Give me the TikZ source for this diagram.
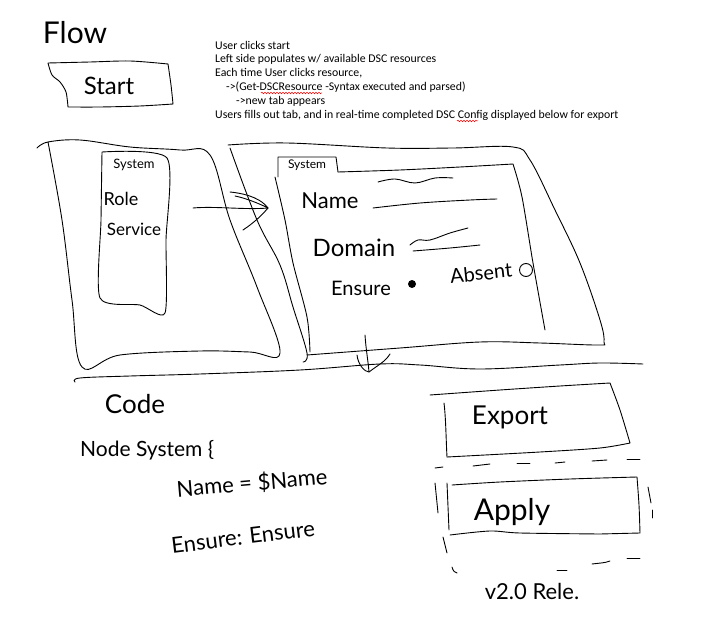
\documentclass[tikz,border=0pt]{standalone}
\usepackage{fontspec}
\setmainfont{Carlito}
\newfontfamily\hand{Lato}
\usetikzlibrary{decorations.pathmorphing}
\tikzset{
  ink/.style={line width=0.9pt, line join=round, line cap=round, black},
  hw/.style={font=\hand, inner sep=0pt},
  typed/.style={font=\fontsize{11.8}{14}\selectfont, anchor=west, inner sep=0pt},
  squig/.style={red, line width=0.5pt, decorate, decoration={snake, amplitude=0.8pt, segment length=3pt}},
  dsh/.style={line width=0.9pt, line cap=round}
}
\begin{document}
\begin{tikzpicture}[x=1pt,y=-1pt]
\useasboundingbox (0,0) rectangle (709,620);
% Flow title
\node[hw, font=\hand\fontsize{30}{30}\selectfont] (flow) at (75,33) {Flow};
% Start box
\draw[ink] plot[smooth, tension=0.5] coordinates {(48,63) (90,62) (130,61) (168,64)} -- plot[smooth,tension=0.5] coordinates {(168,64) (171,85) (173,104)} -- plot[smooth,tension=0.5] coordinates {(173,104) (140,106) (100,107) (68,107)} -- plot[smooth,tension=0.5] coordinates {(68,107) (66,92) (60,82) (52,75) (48,63)};
\node[hw, font=\hand\fontsize{24}{24}\selectfont] (start) at (109,86) {Start};
% typed description
\node[typed] (t1) at (215,45) {User clicks start};
\node[typed] (t2) at (215,59) {Left side populates w/ available DSC resources};
\node[typed] (t3) at (215,73) {Each time User clicks resource,};
\node[typed] (t4) at (226,87) {->(Get-DSCResource -Syntax executed and parsed)};
\node[typed] (t5) at (236,101) {->new tab appears};
\node[typed] (t6) at (215,115) {Users fills out tab, and in real-time completed DSC Config displayed below for export};
\draw[squig] (261,93) -- (322,93);
\draw[squig] (457,121) -- (478,121);
% Left panel
\draw[ink] plot[smooth, tension=0.6] coordinates {(37,148) (48,142) (80,140) (130,147) (180,150) (210,155) (230,220) (257,287) (280,353) (250,352) (200,351) (120,355) (82,367) (72,300) (62,220) (48,142)};
% list box
\draw[ink] plot[smooth, tension=0.4] coordinates {(102,152) (167,158) (166,240) (165,313) (140,305) (100,298) (101,220) (102,152)};
\node[hw, font=\hand\fontsize{13}{13}\selectfont] (lsys) at (134,165) {System};
\node[hw, font=\hand\fontsize{18}{18}\selectfont] (lrole) at (121,199) {Role};
\node[hw, font=\hand\fontsize{17}{17}\selectfont] (lserv) at (134,229) {Service};
% arrow between panels
\coordinate (aS) at (193,208);
\coordinate (aT) at (268,208);
\draw[ink] (aS) .. controls (215,206) and (245,210) .. (aT);
\draw[ink] (230,192) .. controls (250,194) and (262,200) .. (aT) .. controls (258,203) and (245,198) .. (235,196);
\draw[ink] (243,230) .. controls (255,222) and (262,215) .. (aT);
% Right panel
\draw[ink] plot[smooth, tension=0.6] coordinates {(228,145) (287,143) (387,148) (453,148) (513,147) (530,160) (555,210) (580,263) (600,320) (604,342) (598,345) (540,343) (480,342) (400,348) (307,355)};
\draw[ink] plot[smooth, tension=0.6] coordinates {(230,148) (257,220) (280,265) (293,307) (307,353) (303,362)};
% form with tab
\draw[ink] (278,177) -- (278,157) -- (336,157) -- (338,172);
\draw[ink] plot[smooth, tension=0.5] coordinates {(338,172) (400,170) (460,167) (513,164)} -- plot[smooth,tension=0.5] coordinates {(513,164) (522,197) (533,263) (545,330)};
\draw[ink] plot[smooth, tension=0.5] coordinates {(275,177) (285,220) (293,263) (307,317) (310,352)};
\node[hw, font=\hand\fontsize{12}{12}\selectfont] (tsys) at (307,165) {System};
\node[hw, font=\hand\fontsize{22}{22}\selectfont] (fname) at (330,201) {Name};
\draw[ink] plot[smooth, tension=0.6] coordinates {(378,182) (395,179) (415,183) (435,178) (453,178)};
\draw[ink] plot[smooth, tension=0.6] coordinates {(373,208) (420,203) (470,200) (497,199)};
\node[hw, font=\hand\fontsize{24}{24}\selectfont] (fdom) at (354,248) {Domain};
\draw[ink] plot[smooth, tension=0.6] coordinates {(410,245) (418,240) (430,240) (450,233) (468,228)};
\draw[ink] plot[smooth, tension=0.6] coordinates {(413,251) (450,248) (480,245)};
\node[hw, font=\hand\fontsize{20}{20}\selectfont] (fens) at (361,288) {Ensure};
\node[circle, fill=black, minimum size=8pt, inner sep=0pt] (rad1) at (412,284) {};
\node[hw, font=\hand\fontsize{20}{20}\selectfont, rotate=6] (fabs) at (481,273) {Absent};
\node[circle, draw, line width=0.9pt, minimum size=13pt, inner sep=0pt] (rad2) at (526,270) {};
% down arrow
\coordinate (dS) at (365,335);
\coordinate (dT) at (369,372);
\draw[ink] (dS) .. controls (366,350) and (368,360) .. (dT);
\draw[ink] (357,355) .. controls (358,365) and (365,372) .. (dT) .. controls (378,365) and (385,362) .. (390,354);
% separator
\draw[ink] plot[smooth, tension=0.6] coordinates {(75,382) (80,378) (130,376) (200,374) (300,370) (380,364) (420,365) (480,369) (560,365) (600,363) (643,364)};
% Code section
\node[hw, font=\hand\fontsize{26}{26}\selectfont] (code) at (135,404) {Code};
\node[hw, font=\hand\fontsize{21}{21}\selectfont, anchor=west] (cnode) at (80,450) {Node System \{};
\node[hw, font=\hand\fontsize{22}{22}\selectfont, rotate=5] (cname) at (252,483) {Name = \$Name};
\node[hw, font=\hand\fontsize{22}{22}\selectfont, rotate=7] (censure) at (243,537) {Ensure: Ensure};
% Export box
\draw[ink] plot[smooth, tension=0.5] coordinates {(430,395) (500,390) (560,386) (610,383)} -- plot[smooth,tension=0.5] coordinates {(610,383) (620,410) (630,443)} -- plot[smooth,tension=0.5] coordinates {(630,443) (600,448) (540,452) (447,457)};
\draw[ink] (444,403) .. controls (446,420) and (446,440) .. (447,457);
\node[hw, font=\hand\fontsize{26}{26}\selectfont] (export) at (510,417) {Export};
% dashed group
\draw[dsh] (435,468) -- (443,467);
\draw[dsh] (473,466) -- (490,464);
\draw[dsh] (517,463) -- (530,463);
\draw[dsh] (555,463) -- (565,462);
\draw[dsh] (592,461) -- (607,460);
\draw[dsh] (627,459) -- (640,459);
\draw[dsh] (435,483) -- (438,513);
\draw[dsh] (443,537) -- (447,553);
\draw[dsh] (452,567) .. controls (453,571) and (455,573) .. (457,573);
\draw[dsh] (648,487) -- (651,503);
\draw[dsh] (652,510) -- (652,518);
\draw[dsh] (557,570) -- (567,570);
\draw[dsh] (592,564) .. controls (600,563) and (605,563) .. (610,561);
\draw[dsh] (627,558) -- (640,558);
% Apply box
\draw[ink] plot[smooth, tension=0.5] coordinates {(452,485) (500,482) (570,479) (637,477)} -- plot[smooth,tension=0.5] coordinates {(637,477) (639,505) (640,533)} -- (600,534) -- plot[smooth,tension=0.5] coordinates {(600,534) (520,533) (490,531) (450,535)};
\draw[ink] (447,483) -- (449,530);
\node[hw, font=\hand\fontsize{30}{30}\selectfont] (apply) at (512,512) {Apply};
\node[hw, font=\hand\fontsize{22}{22}\selectfont] (rel) at (532,591) {v2.0 Rele.};
\end{tikzpicture}
\end{document}
